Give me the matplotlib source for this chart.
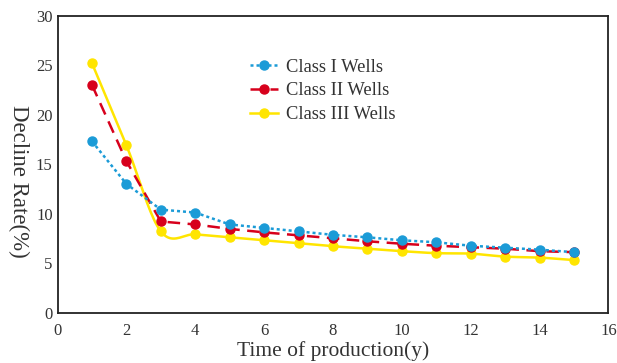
import numpy as np
import matplotlib
matplotlib.use("Agg")
import matplotlib.pyplot as plt

years = [1, 2, 3, 4, 5, 6, 7, 8, 9, 10, 11, 12, 13, 14, 15]
class1 = [17.3, 13.0, 10.4, 10.1, 8.9, 8.55, 8.2, 7.85, 7.6, 7.3, 7.1, 6.75, 6.55, 6.35, 6.1]
class2 = [23.0, 15.3, 9.2, 8.9, 8.45, 8.1, 7.8, 7.5, 7.2, 6.95, 6.75, 6.6, 6.45, 6.2, 6.1]
class3 = [25.2, 16.9, 8.2, 7.9, 7.6, 7.3, 7.0, 6.7, 6.45, 6.2, 6.0, 5.95, 5.65, 5.55, 5.3]
labels = ["Class I Wells", "Class II Wells", "Class III Wells"]
xticks = [0, 2, 4, 6, 8, 10, 12, 14, 16]
yticks = [0, 5, 10, 15, 20, 25, 30]

plt.rcParams["font.family"] = ["Liberation Serif", "DejaVu Serif"]
TXT = "#333333"


def smooth(x, y, n=20):
    """Catmull-Rom curve through the points (display smoothing)."""
    x = np.asarray(x, float)
    y = np.asarray(y, float)
    px = np.concatenate([[2 * x[0] - x[1]], x, [2 * x[-1] - x[-2]]])
    py = np.concatenate([[2 * y[0] - y[1]], y, [2 * y[-1] - y[-2]]])
    xs, ys = [], []
    t = np.linspace(0, 1, n, endpoint=False)
    for i in range(1, len(px) - 2):
        for arr, out in ((px, xs), (py, ys)):
            p0, p1, p2, p3 = arr[i - 1], arr[i], arr[i + 1], arr[i + 2]
            out.extend(0.5 * ((2 * p1) + (-p0 + p2) * t
                              + (2 * p0 - 5 * p1 + 4 * p2 - p3) * t ** 2
                              + (-p0 + 3 * p1 - 3 * p2 + p3) * t ** 3))
    xs.append(x[-1])
    ys.append(y[-1])
    return np.array(xs), np.array(ys)


fig = plt.figure(figsize=(6.17, 3.63), dpi=100)
ax = fig.add_axes([0.0932, 0.139, 0.893, 0.818])

c1, c2, c3 = "#1b9bd7", "#d7001c", "#ffe500"
ax.plot(years, class1, color=c1, lw=1.8, ls=(0, (1.2, 1.2)), marker="o", ms=6.5,
        label=labels[0], zorder=4)
ax.plot(years, class2, color=c2, lw=1.8, ls=(0, (5, 3)), marker="o", ms=6.5,
        label=labels[1], zorder=3)
sx, sy = smooth(years, class3)
ax.plot(sx, sy, color=c3, lw=1.8, zorder=2)
ax.plot(years, class3, color=c3, lw=1.8, ls="none", marker="o", ms=6.5, zorder=2)
ax.plot([], [], color=c3, lw=1.8, marker="o", ms=6.5, label=labels[2])

ax.set_xlim(0, 16)
ax.set_ylim(0, 30)
ax.set_xticks(xticks)
ax.set_yticks(yticks)
ax.tick_params(length=0, labelsize=12, labelcolor=TXT)
ax.tick_params(axis="x", pad=7.5)
ax.tick_params(axis="y", pad=3.5)
for s in ax.spines.values():
    s.set_color("#222222")
    s.set_linewidth(1.3)

ax.set_xlabel("Time of production(y)", fontsize=15.5, color=TXT, va="center")
ax.xaxis.set_label_coords(0.5, -0.13)
ax.set_ylabel("Decline Rate(%)", fontsize=16.5, color=TXT, rotation=-90,
              va="center", ha="center")
ax.yaxis.set_label_coords(-0.070, 0.443)

leg = ax.legend(loc="upper left", bbox_to_anchor=(0.405, 0.838), bbox_transform=fig.transFigure,
                frameon=False, fontsize=13.3, handlelength=1.5, labelspacing=0.36,
                handletextpad=0.43, borderpad=0, borderaxespad=0)
for t in leg.get_texts():
    t.set_color(TXT)

fig.savefig("out.png", dpi=100, facecolor="white")
